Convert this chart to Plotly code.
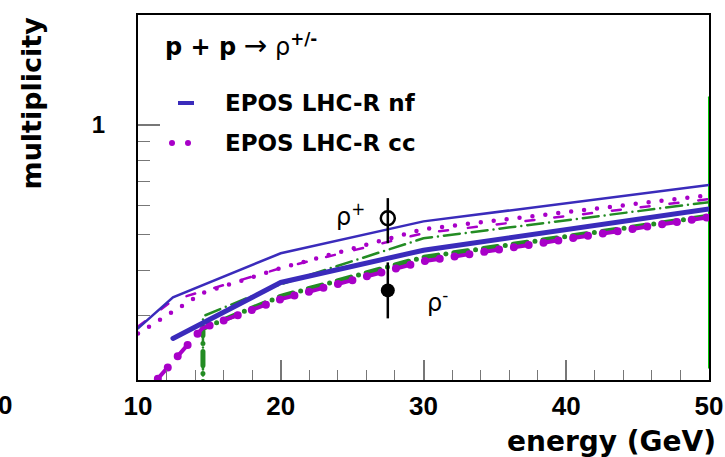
import plotly.graph_objects as go
import math

# ---------------- data ----------------
# EPOS LHC-R nf (blue): thin = rho+, thick = rho-
nf_plus_E = [10, 12.45, 20, 30, 50]
nf_plus_v = [0.277, 0.337, 0.445, 0.544, 0.684]
nf_minus_E = [12.45, 20, 30, 50]
nf_minus_v = [0.260, 0.370, 0.4535, 0.588]

# EPOS LHC-R cc (magenta): upper = rho+, lower = rho-
cc_plus_dot_E = [10, 14.5, 20, 30, 50]
cc_plus_dot_v = [0.268, 0.346, 0.405, 0.518, 0.642]
cc_plus_dash_E = [10, 12.45, 20, 30, 50]
cc_plus_dash_v = [0.280, 0.331, 0.405, 0.505, 0.626]
cc_minus_E = [10, 14.5, 20, 30, 50]
cc_minus_v = [0.175, 0.277, 0.333, 0.423, 0.559]

# green dash-dot curves
green_plus_E = [14.55, 14.55, 20, 30, 50]
green_plus_v = [0.15, 0.299, 0.366, 0.489, 0.614]
green_minus_E = [14.55, 14.55, 20, 30, 50]
green_minus_v = [0.15, 0.277, 0.339, 0.434, 0.5625]

# bright green line at the right edge
edge_E = [50, 50]
edge_v = [0.216, 1.19]

# measurements
meas_E = [27.5]
rho_plus = [0.555]
rho_plus_hi = [0.630]
rho_plus_lo = [0.474]
rho_minus = [0.352]
rho_minus_hi = [0.420]
rho_minus_lo = [0.295]

x_ticks = [10, 20, 30, 40, 50]
y_ticks = [1]
y_minor = [0.3, 0.4, 0.5, 0.6, 0.7, 0.8, 0.9]

BLUE = "#3a2bbb"
MAG = "#a800c8"
GREEN = "#238c23"
FONT = "Liberation Sans, Arial, sans-serif"
WIDE = "DejaVu Sans, Liberation Sans, sans-serif"

fig = go.Figure()

fig.add_trace(go.Scatter(x=edge_E, y=edge_v, mode="lines",
                         line=dict(color="#00c800", width=2), showlegend=False))
fig.add_trace(go.Scatter(x=green_plus_E, y=green_plus_v, mode="lines",
                         line=dict(color=GREEN, width=2.5, dash="16px,6px,0px,6px"),
                         showlegend=False))
fig.add_trace(go.Scatter(x=green_minus_E, y=green_minus_v, mode="lines",
                         line=dict(color=GREEN, width=5, dash="14px,8px,0px,8px"),
                         showlegend=False))
fig.add_trace(go.Scatter(x=cc_plus_dash_E, y=cc_plus_dash_v, mode="lines",
                         line=dict(color=MAG, width=2.5, dash="9px,20px"),
                         showlegend=False))
fig.add_trace(go.Scatter(x=cc_plus_dot_E, y=cc_plus_dot_v, mode="lines",
                         line=dict(color=MAG, width=4.5, dash="0px,13px"),
                         showlegend=False))
fig.add_trace(go.Scatter(x=cc_minus_E, y=cc_minus_v, mode="lines",
                         line=dict(color=MAG, width=4, dash="12px,18px"),
                         showlegend=False))
fig.add_trace(go.Scatter(x=cc_minus_E, y=cc_minus_v, mode="lines",
                         line=dict(color=MAG, width=8, dash="0px,15px"),
                         showlegend=False))
fig.add_trace(go.Scatter(x=nf_plus_E, y=nf_plus_v, mode="lines",
                         line=dict(color=BLUE, width=2.5), showlegend=False))
fig.add_trace(go.Scatter(x=nf_minus_E, y=nf_minus_v, mode="lines",
                         line=dict(color=BLUE, width=5), showlegend=False))

fig.add_trace(go.Scatter(
    x=meas_E, y=rho_plus, mode="markers",
    marker=dict(symbol="circle-open", size=14, color="black", line=dict(width=2.5)),
    error_y=dict(type="data", symmetric=False,
                 array=[h - v for h, v in zip(rho_plus_hi, rho_plus)],
                 arrayminus=[v - l for l, v in zip(rho_plus_lo, rho_plus)],
                 color="black", thickness=2.5, width=0),
    showlegend=False))
fig.add_trace(go.Scatter(
    x=meas_E, y=rho_minus, mode="markers",
    marker=dict(symbol="circle", size=14, color="black"),
    error_y=dict(type="data", symmetric=False,
                 array=[h - v for h, v in zip(rho_minus_hi, rho_minus)],
                 arrayminus=[v - l for l, v in zip(rho_minus_lo, rho_minus)],
                 color="black", thickness=2.5, width=0),
    showlegend=False))

L, R, T, B = 138, 16, 15, 77
W, H = 725, 457
pw, ph = W - L - R, H - T - B

def px(xp):
    return (xp - L) / pw

def py(yp):
    return (H - B - yp) / ph

annotations = [
    dict(text="<b>p + p</b> <span style='font-size:28px'>\u2192</span> \u03c1<sup><b>+/-</b></sup>",
         x=px(163), y=py(45),
         xref="paper", yref="paper", xanchor="left", yanchor="middle",
         showarrow=False, font=dict(size=24, color="black", family=WIDE)),
    dict(text="<b>EPOS LHC-R nf</b>", x=px(223), y=py(103),
         xref="paper", yref="paper", xanchor="left", yanchor="middle",
         showarrow=False, font=dict(size=23, color="black", family=WIDE)),
    dict(text="<b>EPOS LHC-R cc</b>", x=px(223), y=py(143),
         xref="paper", yref="paper", xanchor="left", yanchor="middle",
         showarrow=False, font=dict(size=23, color="black", family=WIDE)),
    dict(text="\u03c1<sup>+</sup>", x=24.9, y=math.log10(0.565),
         xref="x", yref="y", xanchor="center", yanchor="middle",
         showarrow=False, font=dict(size=24, color="black", family=WIDE)),
    dict(text="\u03c1<sup>-</sup>", x=31.0, y=math.log10(0.33),
         xref="x", yref="y", xanchor="center", yanchor="middle",
         showarrow=False, font=dict(size=24, color="black", family=WIDE)),
    dict(text="<b>multiplicity</b>", x=px(31), y=1.0, textangle=-90,
         xref="paper", yref="paper", xanchor="center", yanchor="top",
         showarrow=False, font=dict(size=27, color="black", family=WIDE)),
    dict(text="<b>energy (GeV)</b>", x=1.0 + 9 / pw, y=py(441),
         xref="paper", yref="paper", xanchor="right", yanchor="middle",
         showarrow=False, font=dict(size=28, color="black", family=WIDE)),
    dict(text="<b>0</b>", x=px(5), y=py(405),
         xref="paper", yref="paper", xanchor="center", yanchor="middle",
         showarrow=False, font=dict(size=26, color="black", family=FONT)),
]

shapes = [
    dict(type="line", xref="paper", yref="paper", x0=px(178), x1=px(194),
         y0=py(103), y1=py(103), line=dict(color=BLUE, width=4)),
    dict(type="circle", xref="paper", yref="paper", x0=px(169), x1=px(175),
         y0=py(146), y1=py(140), fillcolor=MAG, line=dict(width=0)),
    dict(type="circle", xref="paper", yref="paper", x0=px(185), x1=px(191),
         y0=py(146), y1=py(140), fillcolor=MAG, line=dict(width=0)),
]

fig.update_layout(
    width=W, height=H,
    margin=dict(l=L, r=R, t=T, b=B, pad=0, autoexpand=False),
    paper_bgcolor="white", plot_bgcolor="white",
    font=dict(family=FONT, color="black"),
    annotations=annotations, shapes=shapes,
    showlegend=False,
    xaxis=dict(range=[10, 50], tickvals=x_ticks, ticktext=[f"<b>{v}</b>" for v in x_ticks],
               ticks="inside", ticklen=20, tickwidth=1.5, tickcolor="#777",
               minor=dict(dtick=2, tick0=10, ticks="inside", ticklen=10, tickcolor="#777", tickwidth=1.2),
               showgrid=False, zeroline=False, showline=True, linecolor="black", linewidth=2,
               mirror=True, tickfont=dict(size=26, family=FONT), automargin=False,
               ticklabelstandoff=2),
    yaxis=dict(type="log", range=[math.log10(0.2), math.log10(2)],
               tickvals=y_ticks, ticktext=["<b>1</b>"],
               ticks="inside", ticklen=22, tickwidth=1.5, tickcolor="#777",
               minor=dict(tickvals=y_minor, ticks="inside", ticklen=12, tickcolor="#777", tickwidth=1.2),
               showgrid=False, zeroline=False, showline=True, linecolor="black", linewidth=2,
               mirror=True, tickfont=dict(size=24, family=FONT), ticklabelstandoff=26,
               automargin=False),
)

fig.write_html("out.html", post_script=(
    "var s=document.createElement('style');"
    "s.innerHTML='.scatterlayer .js-line{stroke-linecap:round}';"
    "document.head.appendChild(s);"))
